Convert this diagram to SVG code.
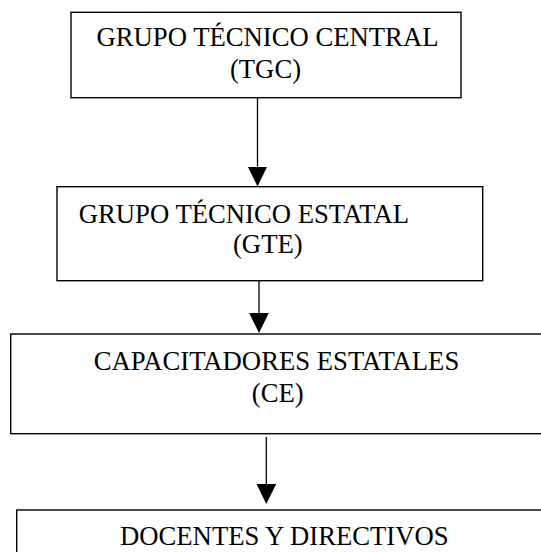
<svg xmlns="http://www.w3.org/2000/svg" width="541" height="552" viewBox="0 0 541 552">
  <style>
    .box { fill: #ffffff; stroke: #000000; stroke-width: 1.4; }
    .lbl { font-family: "Liberation Serif", "Times New Roman", serif; font-size: 26.7px; fill: #000000; text-anchor: middle; }
    .conn { stroke: #000000; stroke-width: 1.3; fill: none; }
  </style>
  <defs>
    <marker id="arrow" markerUnits="userSpaceOnUse" markerWidth="21" markerHeight="21" refX="0" refY="9.8" orient="auto" viewBox="0 0 21 21">
      <path d="M0,0 L20,9.8 L0,19.6 Z" fill="#000000"/>
    </marker>
  </defs>
  <rect width="541" height="552" fill="#ffffff"/>

  <g id="tgc">
    <rect class="box" x="71" y="12.3" width="390" height="85.4"/>
    <text class="lbl" x="267.5" y="45.7">GRUPO TÉCNICO CENTRAL</text>
    <text class="lbl" x="265.5" y="77.7">(TGC)</text>
  </g>

  <g id="gte">
    <rect class="box" x="57" y="186.7" width="425.7" height="94"/>
    <text class="lbl" x="243.9" y="222.5">GRUPO TÉCNICO ESTATAL</text>
    <text class="lbl" x="267.8" y="253.3">(GTE)</text>
  </g>

  <g id="ce">
    <rect class="box" x="10.7" y="334" width="545" height="99.7"/>
    <text class="lbl" x="276.5" y="369.5">CAPACITADORES ESTATALES</text>
    <text class="lbl" x="277.7" y="401.5">(CE)</text>
  </g>

  <g id="docentes">
    <rect class="box" x="16.7" y="510" width="545" height="60"/>
    <text class="lbl" x="284.3" y="545">DOCENTES Y DIRECTIVOS</text>
  </g>

  <g id="connectors">
    <line class="conn" x1="257.5" y1="97.7" x2="257.5" y2="166.5" marker-end="url(#arrow)"/>
    <line class="conn" x1="259" y1="280.7" x2="259" y2="313" marker-end="url(#arrow)"/>
    <line class="conn" x1="266.3" y1="437" x2="266.3" y2="484" marker-end="url(#arrow)"/>
  </g>
</svg>
